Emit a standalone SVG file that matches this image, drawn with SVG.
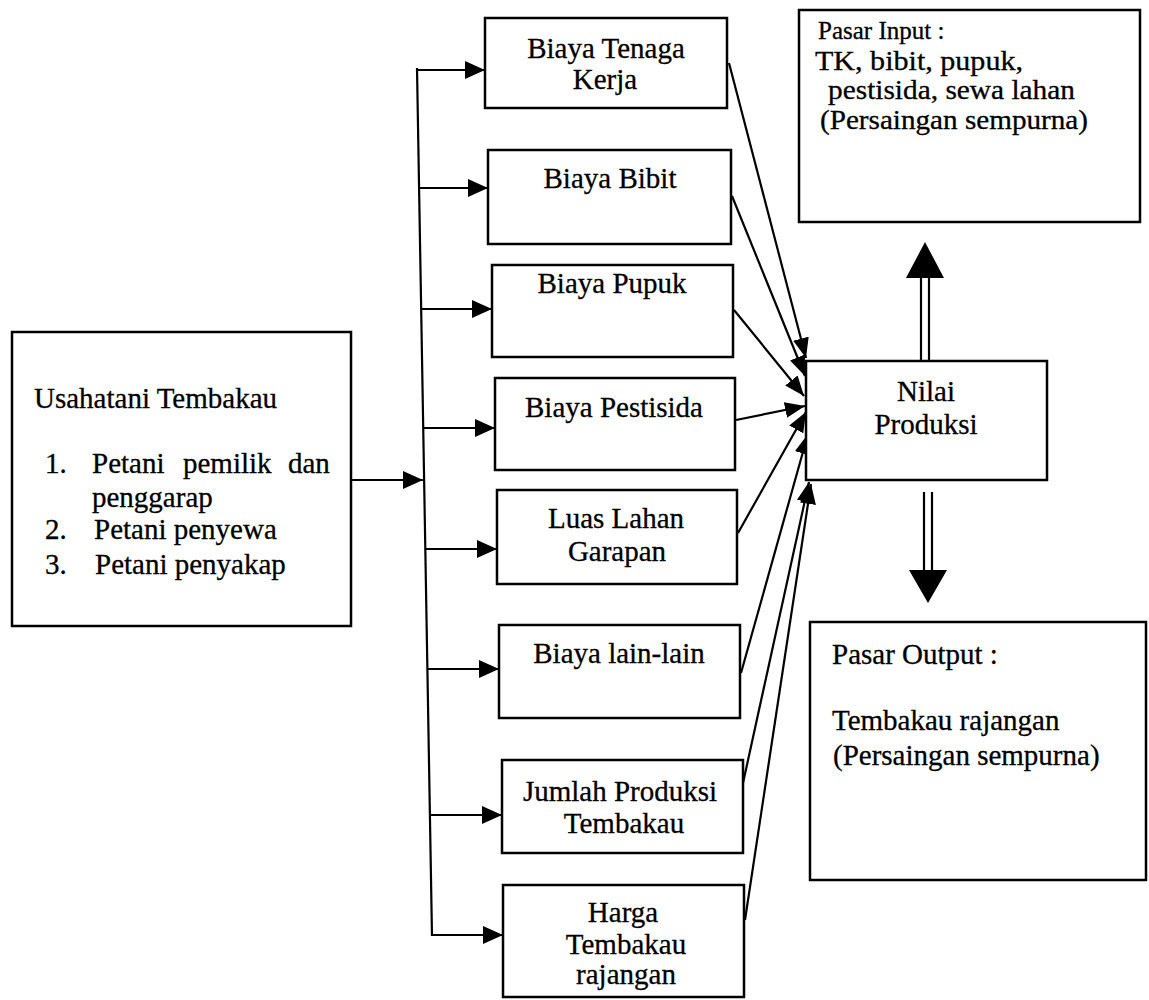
<svg xmlns="http://www.w3.org/2000/svg" width="1149" height="1000" viewBox="0 0 1149 1000">
<style>
.box{fill:#fff;stroke:#000;stroke-width:2.5}
.ln{fill:none;stroke:#000;stroke-width:2.2}
.t{font-family:"Liberation Serif","Times New Roman",serif;font-size:29px;fill:#000;stroke:#000;stroke-width:0.3}
.s{font-size:27px}
.c{text-anchor:middle}
</style>
<defs>
<marker id="ah" viewBox="0 0 20 18" refX="20" refY="9" markerWidth="20" markerHeight="18" markerUnits="userSpaceOnUse" orient="auto">
<path d="M0,0 L20,9 L0,18 z" fill="#000"/>
</marker>
<marker id="ah2" viewBox="0 0 20 16" refX="20" refY="8" markerWidth="20" markerHeight="16" markerUnits="userSpaceOnUse" orient="auto">
<path d="M0,0 L20,8 L0,16 z" fill="#000"/>
</marker>
</defs>
<rect width="1149" height="1000" fill="#fff"/>

<g id="connectors">
<line class="ln" x1="417" y1="68" x2="432" y2="936"/>
<line class="ln" x1="351" y1="480" x2="423" y2="480" marker-end="url(#ah)"/>
<line class="ln" x1="417" y1="70" x2="485" y2="70" marker-end="url(#ah)"/>
<line class="ln" x1="419" y1="188" x2="488" y2="188" marker-end="url(#ah)"/>
<line class="ln" x1="421" y1="309" x2="492" y2="309" marker-end="url(#ah)"/>
<line class="ln" x1="423" y1="428" x2="495" y2="428" marker-end="url(#ah)"/>
<line class="ln" x1="425" y1="549" x2="497" y2="549" marker-end="url(#ah)"/>
<line class="ln" x1="427" y1="669" x2="499" y2="669" marker-end="url(#ah)"/>
<line class="ln" x1="430" y1="815" x2="502" y2="815" marker-end="url(#ah)"/>
<line class="ln" x1="432" y1="935" x2="503" y2="935" marker-end="url(#ah)"/>

<line class="ln" x1="729" y1="63" x2="806" y2="358" marker-end="url(#ah2)"/>
<line class="ln" x1="732" y1="196" x2="805" y2="376" marker-end="url(#ah2)"/>
<line class="ln" x1="734" y1="310" x2="804" y2="396" marker-end="url(#ah2)"/>
<line class="ln" x1="736" y1="420" x2="805" y2="406" marker-end="url(#ah2)"/>
<line class="ln" x1="738" y1="533" x2="806" y2="412" marker-end="url(#ah2)"/>
<line class="ln" x1="741" y1="673" x2="808" y2="434" marker-end="url(#ah2)"/>
<line class="ln" x1="743" y1="783" x2="809" y2="482" marker-end="url(#ah2)"/>
<line class="ln" x1="745" y1="920" x2="811" y2="484" marker-end="url(#ah2)"/>

<line class="ln" x1="921" y1="360" x2="921" y2="276"/>
<line class="ln" x1="929" y1="360" x2="929" y2="276"/>
<path d="M906,278 L944,278 L925,242 z" fill="#000"/>
<line class="ln" x1="924" y1="492" x2="924" y2="572"/>
<line class="ln" x1="932" y1="492" x2="932" y2="572"/>
<path d="M909,570 L947,570 L928,603 z" fill="#000"/>
</g>

<g id="usahatani">
<rect class="box" x="12" y="332" width="339" height="294"/>
<text class="t" x="34" y="408">Usahatani Tembakau</text>
<text class="t" x="45" y="473">1.</text>
<text class="t" x="92" y="473">Petani</text>
<text class="t" x="183" y="473">pemilik</text>
<text class="t" x="288" y="473">dan</text>
<text class="t" x="92" y="507">penggarap</text>
<text class="t" x="45" y="539">2.</text>
<text class="t" x="94" y="539">Petani penyewa</text>
<text class="t" x="45" y="574">3.</text>
<text class="t" x="95" y="574">Petani penyakap</text>
</g>

<g id="b-tenaga">
<rect class="box" x="485" y="18" width="242" height="90"/>
<text class="t c" x="606" y="58">Biaya Tenaga</text>
<text class="t c" x="605" y="89">Kerja</text>
</g>
<g id="b-bibit">
<rect class="box" x="488" y="150" width="243" height="94"/>
<text class="t c" x="610" y="188">Biaya Bibit</text>
</g>
<g id="b-pupuk">
<rect class="box" x="492" y="265" width="241" height="92"/>
<text class="t c" x="612" y="293">Biaya Pupuk</text>
</g>
<g id="b-pestisida">
<rect class="box" x="495" y="378" width="240" height="92"/>
<text class="t c" x="614" y="417">Biaya Pestisida</text>
</g>
<g id="b-lahan">
<rect class="box" x="497" y="490" width="240" height="94"/>
<text class="t c" x="616" y="528">Luas Lahan</text>
<text class="t c" x="617" y="561">Garapan</text>
</g>
<g id="b-lain">
<rect class="box" x="499" y="625" width="241" height="93"/>
<text class="t c" x="619" y="663">Biaya lain-lain</text>
</g>
<g id="b-jumlah">
<rect class="box" x="502" y="760" width="241" height="93"/>
<text class="t c" x="620" y="801">Jumlah Produksi</text>
<text class="t c" x="624" y="833">Tembakau</text>
</g>
<g id="b-harga">
<rect class="box" x="503" y="885" width="241" height="112"/>
<text class="t c" x="623" y="922">Harga</text>
<text class="t c" x="626" y="954">Tembakau</text>
<text class="t c" x="626" y="984">rajangan</text>
</g>

<g id="pasar-input">
<rect class="box" x="799" y="10" width="341" height="212"/>
<text class="t" x="818" y="39" style="font-size:25px">Pasar Input :</text>
<text class="t s" x="815" y="70" textLength="208" lengthAdjust="spacingAndGlyphs">TK, bibit, pupuk,</text>
<text class="t s" x="828" y="99" textLength="247" lengthAdjust="spacingAndGlyphs">pestisida, sewa lahan</text>
<text class="t s" x="820" y="129" textLength="268" lengthAdjust="spacingAndGlyphs">(Persaingan sempurna)</text>
</g>

<g id="nilai">
<rect class="box" x="806" y="361" width="241" height="119"/>
<text class="t c" x="926" y="401">Nilai</text>
<text class="t c" x="926" y="434">Produksi</text>
</g>

<g id="pasar-output">
<rect class="box" x="810" y="622" width="336" height="258"/>
<text class="t" x="832" y="664">Pasar Output :</text>
<text class="t" x="832" y="730">Tembakau rajangan</text>
<text class="t" x="833" y="765">(Persaingan sempurna)</text>
</g>
</svg>
